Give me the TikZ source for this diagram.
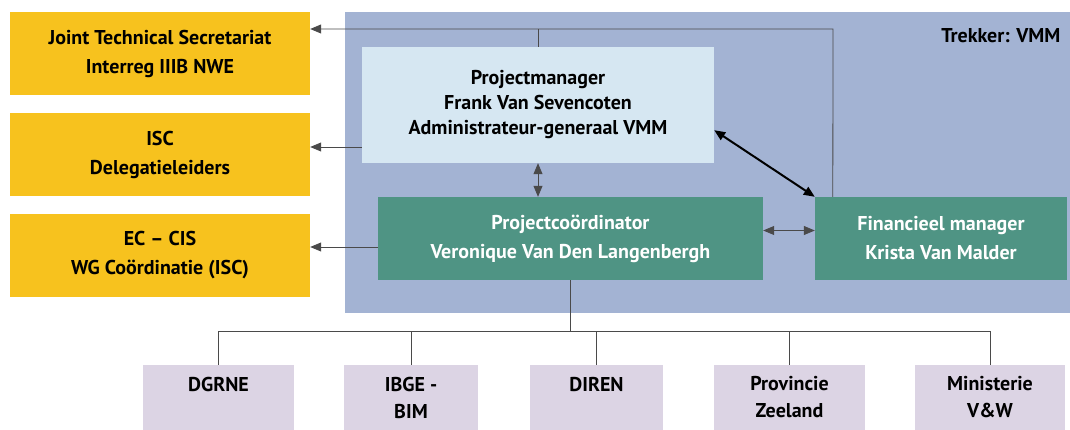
\documentclass[tikz,border=0pt]{standalone}
\usepackage{fontspec}
\setmainfont{PT Sans}
\usetikzlibrary{arrows.meta,positioning}
\tikzset{>={Triangle[width=9pt,length=11pt]}}
\definecolor{orgyellow}{HTML}{F7C21E}
\definecolor{orgblue}{HTML}{A3B3D3}
\definecolor{lightblue}{HTML}{D6E7F2}
\definecolor{darkgreen}{HTML}{4F9484}
\definecolor{lavender}{HTML}{DCD4E4}
\definecolor{linegray}{HTML}{4A4A4A}
\newcommand{\boxfont}{\fontsize{20}{29}\selectfont\bfseries}
\tikzset{
  extbox/.style={fill=orgyellow, minimum width=300, minimum height=83,
    inner sep=0pt, align=center, font=\boxfont},
  pmbox/.style={fill=lightblue, minimum width=352, minimum height=116,
    inner sep=0pt, align=center, font=\fontsize{20}{25}\selectfont\bfseries},
  teambox/.style={fill=darkgreen, minimum height=83, inner sep=0pt,
    align=center, text=white, font=\boxfont},
  partnerbox/.style={fill=lavender, minimum height=65, inner sep=0pt,
    align=center, font=\fontsize{20}{27}\selectfont\bfseries},
  conn/.style={draw=linegray, line width=0.8pt},
}

\begin{document}
\begin{tikzpicture}[x=1pt, y=-1pt]
  \useasboundingbox (0,0) rectangle (1070,430);

  %% lead partner area
  \fill[orgblue] (345,12) rectangle (1070,313);
  \node[anchor=east, font=\boxfont] (trekker) at (1064,36) {Trekker: VMM};

  %% external bodies
  \node[extbox] (jts) at (160,53.5) {Joint Technical Secretariat\\Interreg IIIB NWE};
  \node[extbox] (isc) at (160,154.5) {ISC\\Delegatieleiders};
  \node[extbox] (ec)  at (160,255.5) {EC -- CIS\\WG Coördinatie (ISC)};

  %% project team
  \node[pmbox] (pm) at (538,105)
    {Projectmanager\\Frank Van Sevencoten\\Administrateur-generaal VMM};
  \node[teambox, minimum width=385] (coord) at (570.5,238.5)
    {Projectcoördinator\\Veronique Van Den Langenbergh};
  \node[teambox, minimum width=252] (fin) at (941,238.5)
    {Financieel manager\\Krista Van Malder};

  %% partners
  \node[partnerbox, minimum width=151] (dgrne) at (218.5,397.5) {DGRNE\\~};
  \node[partnerbox, minimum width=134] (ibge)  at (411,397.5) {IBGE -\\BIM};
  \node[partnerbox, minimum width=133] (diren) at (596.5,397.5) {DIREN\\~};
  \node[partnerbox, minimum width=151] (prov)  at (789.5,397.5) {Provincie\\Zeeland};
  \node[partnerbox, minimum width=150] (minvw) at (990,397.5) {Ministerie\\V\&W};

  \coordinate (topline) at (833,29);
  \coordinate (iscin) at ([yshift=7.5pt]isc.east);
  \coordinate (ecin) at ([yshift=8.5pt]ec.east);
  \coordinate (bus) at (0,331);

  \draw[conn, ->] ([xshift=18pt]fin.north west) -- (topline) -- (jts.east |- topline);
  \draw[conn] (pm.north) -- (pm.north |- topline);
  \draw[conn, ->] (pm.west |- iscin) -- (iscin);
  \draw[conn, ->] (coord.west |- ecin) -- (ecin);

  \draw[conn, <->] (pm.south) -- (pm.south |- coord.north);
  \draw[<->, line width=2pt] ([yshift=33pt]pm.south east) -- (fin.north west);
  \draw[conn, <->] ([yshift=8pt]coord.east) -- ([yshift=8pt]fin.west);

  \draw[conn] (coord.south) -- (coord.south |- bus);
  \draw[conn] (dgrne.north) -- (dgrne.north |- bus) -| (minvw.north);
  \foreach \p in {ibge,diren,prov}
    \draw[conn] (\p.north) -- (\p.north |- bus);

\end{tikzpicture}
\end{document}
